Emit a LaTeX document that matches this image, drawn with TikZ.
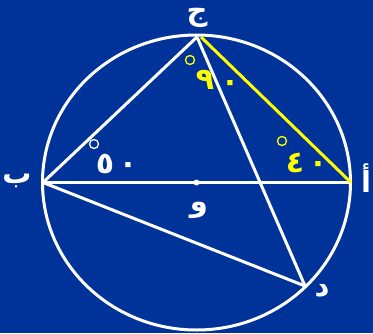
\documentclass[tikz,border=0pt]{standalone}
\usepackage{fontspec}
\newfontfamily\arabicfont[Script=Arabic]{DejaVu Sans}
\TeXXeTstate=1
\definecolor{bgblue}{HTML}{003399}
\definecolor{ylw}{HTML}{FFFF00}
\begin{document}
\begin{tikzpicture}[x=1pt,y=-1pt,
  geo/.style={white,line width=3pt},
  ygeo/.style={ylw,line width=3pt},
  lbl/.style={white,font=\arabicfont\bfseries\fontsize{29}{32}\selectfont,inner sep=0pt},
  ynum/.style={ylw,font=\arabicfont\bfseries\fontsize{30}{32}\selectfont,inner sep=0pt},
  wnum/.style={white,font=\arabicfont\bfseries\fontsize{30}{32}\selectfont,inner sep=0pt},
  deg/.style={line width=1.3pt}]
\fill[bgblue] (0,0) rectangle (373,333);
\useasboundingbox (0,0) rectangle (373,333);
\coordinate (O) at (196.5,182.5);
\coordinate (A) at (351,182.5);
\coordinate (B) at (43,182.5);
\coordinate (C) at (197,37);
\coordinate (C2) at (201,37);
\coordinate (D) at (305,286);
\draw[geo] (O) ellipse [x radius=154, y radius=147.5];
\draw[geo] (B) -- (A);
\draw[geo] (B) -- (C);
\draw[geo] (C) -- (D);
\draw[geo] (B) -- (D);
\draw[ygeo] (C2) -- (A);
\fill[white] (O) circle (3);
\node[lbl] (lc) at (197,18) {\beginR ج\endR};
\node[lbl] (lb) at (17,181) {\beginR ب\endR};
\node[lbl] (la) at (366,178) {\beginR أ\endR};
\node[lbl] (lo) at (199,210) {\beginR و\endR};
\node[lbl] (ld) at (322,291) {\beginR د\endR};
\draw[ylw,deg] (190,60) circle (4.5);
\node[ynum] (n9) at (205,80) {٩};
\node[ynum] (n0a) at (230,86) {٠};
\draw[white,deg] (94,144) circle (4.5);
\node[wnum] (n5) at (105,164) {٥};
\node[wnum] (n0b) at (128,168) {٠};
\draw[ylw,deg] (282,141) circle (4.5);
\node[ynum] (n4) at (295,163) {٤};
\node[ynum] (n0c) at (318,167) {٠};
\end{tikzpicture}
\end{document}
